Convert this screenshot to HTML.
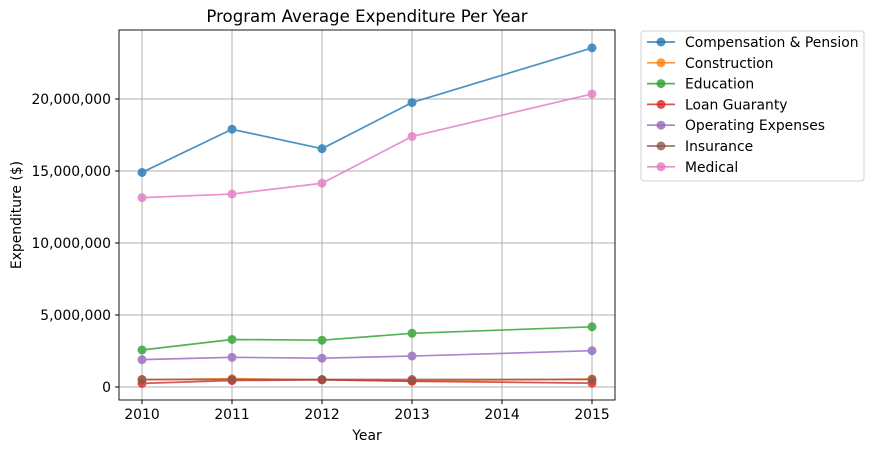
<!DOCTYPE html>
<html><head><meta charset="utf-8"><style>
body{margin:0;background:#fff}
svg text{font-family:"DejaVu Sans","Liberation Sans",sans-serif;fill:#000}
</style></head><body>
<svg id="c" width="874" height="453" xmlns="http://www.w3.org/2000/svg"></svg>
<script>
const years=[2010,2011,2012,2013,2015];
const seriesNames=["Compensation & Pension","Construction","Education","Loan Guaranty","Operating Expenses","Insurance","Medical"];
const colors=["#1f77b4","#ff7f0e","#2ca02c","#d62728","#9467bd","#8c564b","#e377c2"];
const compensation=[14900000,17900000,16550000,19750000,23550000];
const construction=[500000,580000,500000,430000,560000];
const education=[2570000,3300000,3250000,3730000,4180000];
const loan=[250000,450000,500000,400000,270000];
const operating=[1900000,2060000,2000000,2150000,2520000];
const insurance=[520000,520000,520000,520000,520000];
const medical=[13150000,13400000,14150000,17400000,20350000];
const allSeries=[compensation,construction,education,loan,operating,insurance,medical];
const xTicks=[2010,2011,2012,2013,2014,2015];
const yTicks=[0,5000000,10000000,15000000,20000000];
const yTickLabels=["0","5,000,000","10,000,000","15,000,000","20,000,000"];
const L=119,R=615,T=30,B=400;
const X=v=>142+(v-2010)*90;
const Y=v=>387-v*72/5000000;
const s=document.getElementById('c');
const NS="http://www.w3.org/2000/svg";
function el(t,a,p){const e=document.createElementNS(NS,t);for(const k in a)e.setAttribute(k,a[k]);(p||s).appendChild(e);return e;}
xTicks.forEach(t=>{const g=el('line',{x1:X(t),x2:X(t),y1:T,y2:B,stroke:'#b0b0b0','stroke-width':1});

const tk=el('line',{x1:X(t),x2:X(t),y1:B,y2:B+4,stroke:'#000'});

const tx=el('text',{x:X(t),y:B+19,'text-anchor':'middle','font-size':13.9});tx.textContent=t;
});
yTicks.forEach((t,i)=>{const g=el('line',{x1:L,x2:R,y1:Y(t),y2:Y(t),stroke:'#b0b0b0','stroke-width':1});

const tk=el('line',{x1:L-4,x2:L,y1:Y(t),y2:Y(t),stroke:'#000'});

const tx=el('text',{x:L-8,y:Y(t)+5,'text-anchor':'end','font-size':13.9});tx.textContent=yTickLabels[i];
});
allSeries.forEach((d,i)=>{const g=el('g',{opacity:0.8});


const p=el('polyline',{points:d.map((v,j)=>X(years[j])+','+Y(v)).join(' '),fill:'none',stroke:colors[i],'stroke-width':1.7},g);

d.forEach((v,j)=>{const c=el('circle',{cx:X(years[j]),cy:Y(v),r:4.5,fill:colors[i]},g);
});});
const fr=el('rect',{x:L,y:T,width:R-L,height:B-T,fill:'none',stroke:'#000','stroke-width':0.9});

let t=el('text',{x:367,y:22,'text-anchor':'middle','font-size':16.6});t.textContent='Program Average Expenditure Per Year';

t=el('text',{x:367,y:440,'text-anchor':'middle','font-size':13.9});t.textContent='Year';

t=el('text',{x:0,y:0,'text-anchor':'middle','font-size':13.9,transform:'translate(21,215) rotate(-90)'});t.textContent='Expenditure ($)';

const lg=el('g',{});
el('rect',{x:641,y:31,width:223,height:150,rx:3,fill:'#fff',stroke:'#d0d0d0'},lg);
seriesNames.forEach((n,i)=>{const y=42+i*20.8;const e=el('g',{},lg);

el('line',{x1:647,x2:675,y1:y,y2:y,stroke:colors[i],'stroke-width':1.7,opacity:0.8},e);
el('circle',{cx:661,cy:y,r:4.5,fill:colors[i],opacity:0.8},e);
const tx=el('text',{x:685,y:y+5,'font-size':13.9},e);tx.textContent=n;});
</script>
</body></html>
